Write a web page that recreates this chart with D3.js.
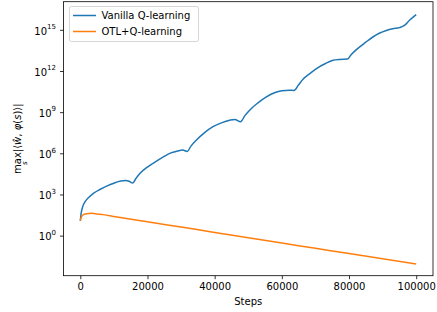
<!DOCTYPE html>
<html>
<head>
<meta charset="utf-8">
<script src="https://cdn.jsdelivr.net/npm/d3@7"></script>
<style>
  html, body { margin: 0; padding: 0; background: #fff; }
  svg { display: block; font-family: "DejaVu Sans", sans-serif; }
</style>
</head>
<body>
<svg id="chart" width="437" height="312"></svg>
<script>
// ---- data ----
const seriesNames = ["Vanilla Q-learning", "OTL+Q-learning"];
const seriesColors = ["#1f77b4", "#ff7f0e"];

const vanillaSteps = [0, 300, 700, 1500, 2500, 4000, 6000, 8000, 10000, 12000, 13500, 14500, 15600,
  16500, 17800, 20000, 22000, 24500, 27000, 29000, 30500, 31800,
  33000, 34600, 37000, 39500, 42000, 44500, 46000, 47700,
  49000, 50400, 53000, 55400, 58000, 60000, 62300, 63600,
  65000, 66300, 68500, 70300, 73000, 75200, 77200, 79600,
  80500, 82200, 85000, 87100, 89000, 91100, 93000, 95000, 96500, 98000, 100000];
const vanillaValues = [12, 50, 126, 316, 600, 1260, 2400, 4200, 6600, 9500, 10500, 9300, 6800,
  14000, 35000, 1.0e5, 2.1e5, 5.0e5, 1.07e6, 1.5e6, 1.74e6, 1.38e6,
  3.5e6, 9.3e6, 3.2e7, 8.7e7, 1.66e8, 2.6e8, 2.95e8, 2.0e8,
  5.6e8, 1.4e9, 5.0e9, 1.3e10, 2.7e10, 3.6e10, 4.0e10, 3.8e10,
  1.0e11, 2.5e11, 7.0e11, 1.5e12, 3.5e12, 6.0e12, 7.0e12, 7.4e12,
  1.4e13, 3.6e13, 1.26e14, 3.0e14, 5.6e14, 9.0e14, 1.2e15, 1.45e15, 2.1e15, 5.0e15, 1.3e16];

const otlSteps = [0, 300, 800, 1500, 2500, 3500, 5000, 6800, 10000, 20000, 30000, 40000, 50000, 60000, 70000, 80000, 90000, 100000];
const otlValues = [12.5, 22, 32, 38, 41.5, 42.5, 38, 34, 25, 10.2, 4.2, 1.72, 0.71, 0.29, 0.12, 0.049, 0.021, 0.0087];

const xTicks = [0, 20000, 40000, 60000, 80000, 100000];
const yTickExponents = [0, 3, 6, 9, 12, 15];

// ---- layout ----
const svg = d3.select("#chart");
const plotLeft = 63.5, plotRight = 433, plotTop = 1.7, plotBottom = 275.7;

const x = d3.scaleLinear().domain([-5000, 105000]).range([plotLeft, plotRight]);
const y = d3.scaleLog().domain([Math.pow(10, -2.92), Math.pow(10, 17.05)]).range([plotBottom, plotTop]);

const series = [
  vanillaSteps.map((s, i) => ({ step: s, value: vanillaValues[i] })),
  otlSteps.map((s, i) => ({ step: s, value: otlValues[i] }))
];

const line = d3.line().x(d => x(d.step)).y(d => y(d.value)).curve(d3.curveMonotoneX);

const plot = svg.append("g");
series.forEach((data, i) => {
  plot.append("path")
    .datum(data)
    .attr("d", line)
    .attr("fill", "none")
    .attr("stroke", seriesColors[i])
    .attr("stroke-width", 1.5)
    .attr("stroke-linejoin", "round")
    .attr("stroke-linecap", "butt");
});

// ---- axes ----
const xAxis = d3.axisBottom(x).tickValues(xTicks).tickFormat(d3.format("d")).tickSize(3.5).tickPadding(3.5);
const gx = svg.append("g").attr("transform", `translate(0,${plotBottom})`).call(xAxis);
gx.select(".domain").remove();
gx.selectAll(".tick line").attr("stroke", "#000").attr("stroke-width", 0.8);
gx.selectAll(".tick text").attr("font-size", 10).attr("fill", "#000")
  .attr("font-family", "DejaVu Sans, sans-serif");

const yAxis = d3.axisLeft(y).tickValues(yTickExponents.map(e => Math.pow(10, e))).tickSize(3.5).tickFormat("");
const gy = svg.append("g").attr("transform", `translate(${plotLeft},0)`).call(yAxis);
gy.select(".domain").remove();
gy.selectAll(".tick line").attr("stroke", "#000").attr("stroke-width", 0.8);
gy.selectAll(".tick").each(function(d, i) {
  const t = d3.select(this).append("text")
    .attr("x", -7.5).attr("y", 4.2)
    .attr("text-anchor", "end")
    .attr("font-size", 10).attr("fill", "#000")
    .attr("font-family", "DejaVu Sans, sans-serif");
  t.append("tspan").text("10");
  t.append("tspan").attr("font-size", 7).attr("dy", -5.5).text(yTickExponents[i]);
});

// frame
svg.append("rect")
  .attr("x", plotLeft).attr("y", plotTop)
  .attr("width", plotRight - plotLeft).attr("height", plotBottom - plotTop)
  .attr("fill", "none").attr("stroke", "#000").attr("stroke-width", 0.8);

// x label
svg.append("text")
  .attr("x", (plotLeft + plotRight) / 2).attr("y", 305)
  .attr("text-anchor", "middle").attr("font-size", 10).attr("fill", "#000")
  .text("Steps");

// y label: max_s |<ŵ, φ(s)>|
const yl = svg.append("g").attr("transform", `translate(20.5,${(plotTop + plotBottom) / 2}) rotate(-90)`);
const ylt = yl.append("text").attr("text-anchor", "middle").attr("font-size", 10).attr("fill", "#000").attr("y", 0);
ylt.append("tspan").text("max");
ylt.append("tspan").text("|⟨");
ylt.append("tspan").attr("font-style", "italic").text("ŵ");
ylt.append("tspan").text(", ");
ylt.append("tspan").attr("font-style", "italic").text("φ");
ylt.append("tspan").text("(");
ylt.append("tspan").attr("font-style", "italic").text("s");
ylt.append("tspan").text(")⟩|");
const total = ylt.node().getComputedTextLength();
const maxLen = ylt.node().getSubStringLength(0, 3);
yl.append("text")
  .attr("x", -total / 2 + maxLen / 2).attr("y", 6.5)
  .attr("text-anchor", "middle").attr("font-size", 7).attr("font-style", "italic").attr("fill", "#000")
  .text("s");

// ---- legend ----
const lg = svg.append("g");
lg.append("rect")
  .attr("x", 69.5).attr("y", 6.5).attr("width", 129).attr("height", 35)
  .attr("rx", 2).attr("fill", "#fff").attr("fill-opacity", 0.8)
  .attr("stroke", "#cccccc").attr("stroke-width", 0.8);
seriesNames.forEach((name, i) => {
  const yy = 15.5 + i * 16;
  lg.append("line").attr("x1", 73).attr("x2", 96).attr("y1", yy).attr("y2", yy)
    .attr("stroke", seriesColors[i]).attr("stroke-width", 1.5);
  lg.append("text").attr("x", 101.5).attr("y", yy + 3.6)
    .attr("font-size", 10).attr("fill", "#000").text(name);
});
</script>
</body>
</html>
